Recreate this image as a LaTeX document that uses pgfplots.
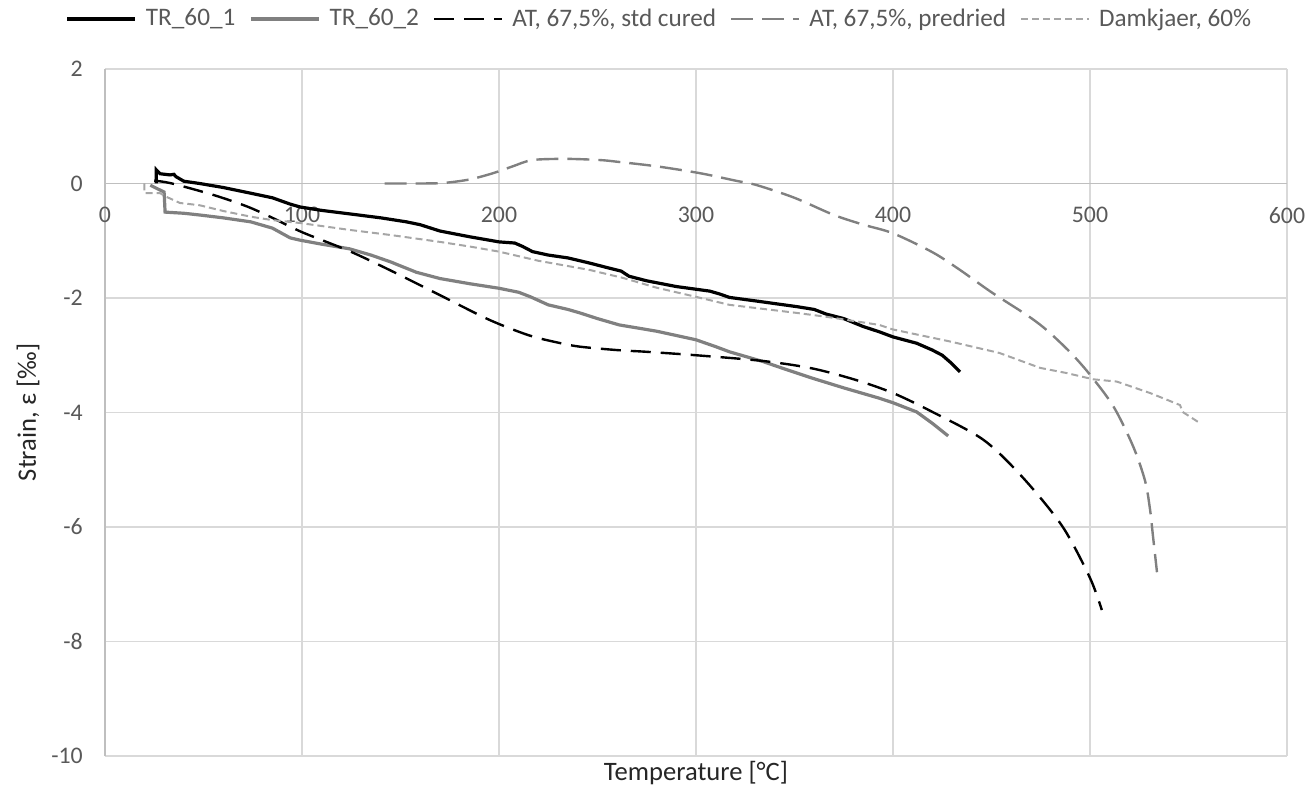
\documentclass[border=0pt]{standalone}
\usepackage{fontspec}
\setmainfont{Carlito}
\usepackage{pgfplots}
\pgfplotsset{compat=1.18}

\definecolor{ticktxt}{HTML}{595959}
\definecolor{gridc}{HTML}{D9D9D9}
\definecolor{axisc}{HTML}{BFBFBF}
\definecolor{midgray}{HTML}{808080}
\definecolor{lightgray}{HTML}{A6A6A6}

\begin{document}
\begin{tikzpicture}
\path[use as bounding box] (0,0) rectangle (654.5pt,395.5pt);
\begin{axis}[
  at={(52.5pt,17.5pt)}, anchor=south west,
  scale only axis, width=591pt, height=343.5pt,
  xmin=0, xmax=600, ymin=-10, ymax=2,
  xtick={0,100,...,600}, ytick={-10,-8,...,2},
  axis x line=middle, axis y line=left,
  axis line style={-, draw=axisc, line width=0.9pt},
  hide obscured x ticks=false, hide obscured y ticks=false,
  major tick length=0pt,
  grid=major, grid style={gridc, line width=0.9pt},
  /pgf/number format/assume math mode=true,
  tick label style={font=\fontsize{11.9}{14}\selectfont, text=ticktxt},
  xticklabel style={yshift=-8.3pt},
  yticklabel style={xshift=-7.6pt},
  xlabel={Temperature [°C]},
  ylabel={Strain, ε [‰]},
  label style={font=\fontsize{13.3}{15}\selectfont, text=black!85},
  xlabel style={at={(axis description cs:0.5,-0.035)}, anchor=base},
  ylabel style={at={(axis description cs:-0.0651,0.5)}, anchor=center, rotate=0},
  legend style={draw=none, fill=none, at={(axis description cs:0.4695,1.0728)}, anchor=center,
    font=\fontsize{12.6}{14}\selectfont, text=ticktxt, legend columns=-1,
    nodes={inner sep=1.5pt},
    /tikz/every even column/.append style={column sep=5.5pt}},
  legend image code/.code={\draw[#1] (0pt,0pt) -- (34pt,0pt); \path (37pt,0pt);},
]
% TR_60_1
\addplot[black, line width=1.6pt] coordinates {
(26,0.0)(26,0.24)(28,0.17)(33,0.15)(35,0.16)(36,0.12)(40,0.04)(48,0.0)(60,-0.07)(74,-0.17)
(85,-0.25)(94,-0.36)(99,-0.41)(110,-0.47)(124,-0.53)(140,-0.6)(153,-0.67)(160,-0.72)(170,-0.83)
(185,-0.93)(200,-1.02)(208,-1.04)(212,-1.1)(217,-1.19)(225,-1.25)(235,-1.3)(246,-1.39)(255,-1.47)
(262,-1.53)(266,-1.62)(275,-1.7)(290,-1.8)(307,-1.88)(312,-1.93)(317,-1.99)(330,-2.05)(351,-2.15)
(360,-2.2)(366,-2.28)(375,-2.36)(385,-2.5)(393,-2.59)(400,-2.68)(412,-2.79)(420,-2.91)(425,-3.0)
(429,-3.12)(434,-3.29)};
% TR_60_2
\addplot[midgray, line width=1.6pt] coordinates {
(23,-0.03)(30,-0.15)(30.5,-0.5)(40,-0.52)(48,-0.55)(60,-0.6)(74,-0.67)(85,-0.78)(94,-0.95)
(99,-0.99)(110,-1.06)(124,-1.14)(135,-1.25)(145,-1.37)(158,-1.55)(170,-1.66)(185,-1.75)(200,-1.83)
(210,-1.9)(216,-1.98)(225,-2.12)(235,-2.2)(241,-2.26)(250,-2.36)(261,-2.47)(280,-2.58)(300,-2.73)
(310,-2.85)(317,-2.94)(334,-3.11)(345,-3.24)(359,-3.4)(375,-3.57)(393,-3.75)(400,-3.83)(412,-3.99)
(420,-4.19)(428,-4.41)};
% AT, 67,5%, std cured
\addplot[black, line width=1.2pt, dash pattern=on 10pt off 5pt, smooth] coordinates {
(25,0.05)(34,0.0)(55,-0.2)(72,-0.4)(85,-0.6)(100,-0.85)(124,-1.18)(145,-1.52)(170,-1.95)
(195,-2.38)(215,-2.65)(230,-2.78)(241,-2.85)(260,-2.91)(275,-2.94)(300,-3.0)(334,-3.1)(359,-3.23)
(381,-3.43)(400,-3.66)(420,-3.99)(446,-4.48)(466,-5.14)(486,-5.99)(500,-6.89)(506,-7.45)};
% AT, 67,5%, predried
\addplot[midgray, line width=1.2pt, dash pattern=on 11pt off 4.5pt, smooth] coordinates {
(142,0.0)(160,0.0)(172,0.01)(185,0.07)(197,0.18)(207,0.3)(217,0.41)(234,0.43)(251,0.41)(260,0.38)
(280,0.3)(302,0.18)(320,0.05)(331,-0.03)(350,-0.25)(370,-0.55)(385,-0.72)(400,-0.87)(420,-1.2)
(434,-1.51)(450,-1.9)(468,-2.3)(478,-2.56)(490,-2.95)(500,-3.34)(512,-3.9)(522,-4.6)(528,-5.2)
(530.5,-5.7)(532,-6.17)(534,-6.79)};
% Damkjaer, 60%
\addplot[lightgray, line width=1pt, dash pattern=on 3.5pt off 2pt] coordinates {
(20,0.0)(20,-0.17)(28,-0.17)(31,-0.23)(38,-0.34)(48,-0.38)(60,-0.48)(74,-0.58)(85,-0.64)(99,-0.69)
(124,-0.81)(145,-0.9)(170,-1.02)(185,-1.1)(200,-1.19)(220,-1.35)(246,-1.51)(263,-1.65)(280,-1.82)
(300,-1.98)(317,-2.12)(351,-2.26)(366.5,-2.33)(393,-2.47)(400,-2.55)(429,-2.76)(454,-2.96)
(474.6,-3.22)(488,-3.31)(501.6,-3.42)(513.6,-3.46)(530.5,-3.66)(545.7,-3.87)(547,-3.99)(556,-4.19)};
\legend{TR\_60\_1, TR\_60\_2, {AT, 67,5\%, std cured}, {AT, 67,5\%, predried}, {Damkjaer, 60\%}}
\end{axis}
\end{tikzpicture}
\end{document}
